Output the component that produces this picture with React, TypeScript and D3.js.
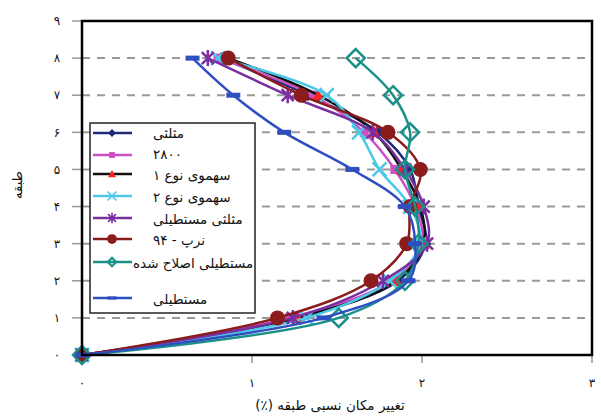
import React from "react";
import * as d3 from "d3";

const floors = [0, 1, 2, 3, 4, 5, 6, 7, 8];
const yTicks = [0, 1, 2, 3, 4, 5, 6, 7, 8, 9];
const xTicks = [0, 1, 2, 3];
const seriesNames = [
  "مثلثی",
  "۲۸۰۰",
  "سهموی نوع ۱",
  "سهموی نوع ۲",
  "مثلثی مستطیلی",
  "نرپ - ۹۴",
  "مستطیلی اصلاح شده",
  "مستطیلی",
];
const triangular = [0, 1.25, 1.86, 2.02, 1.98, 1.93, 1.74, 1.33, 0.82];
const code2800 = [0, 1.22, 1.82, 2.0, 1.96, 1.84, 1.66, 1.36, 0.8];
const parabolic1 = [0, 1.27, 1.85, 2.01, 1.99, 1.88, 1.72, 1.39, 0.86];
const parabolic2 = [0, 1.32, 1.81, 1.99, 1.93, 1.75, 1.63, 1.44, 0.8];
const triRect = [0, 1.24, 1.77, 2.03, 2.01, 1.9, 1.71, 1.21, 0.74];
const nrp94 = [0, 1.15, 1.7, 1.91, 1.93, 1.99, 1.8, 1.29, 0.86];
const rectModified = [0, 1.51, 1.9, 1.98, 1.96, 1.9, 1.93, 1.83, 1.61];
const rectangular = [0, 1.42, 1.92, 1.96, 1.9, 1.59, 1.19, 0.89, 0.65];

const seriesValues = [triangular, code2800, parabolic1, parabolic2, triRect, nrp94, rectModified, rectangular];
const lineColors = ["#1f2a7a", "#cc4fc4", "#111111", "#4cc8e8", "#7a2fa0", "#8b1c1c", "#1a9088", "#2f4fc0"];
const markerColors = ["#1f2a7a", "#cc4fc4", "#ff2020", "#4cc8e8", "#7a2fa0", "#8b1c1c", "#1a9088", "#2f4fc0"];
const markerKinds = ["diamond", "square", "triangle", "x", "star", "circle", "hdiamond", "dash"];

const toFa = (n: number) => String(n).replace(/\d/g, (d) => "۰۱۲۳۴۵۶۷۸۹"[+d]);

const FONT = "'DejaVu Sans', sans-serif";

function Marker({ kind, color, x, y, s = 1 }: { kind: string; color: string; x: number; y: number; s?: number }) {
  let el: React.ReactNode = null;
  switch (kind) {
    case "diamond":
      el = <path d="M0,-6L6,0L0,6L-6,0Z" fill={color} />;
      break;
    case "square":
      el = <rect x={-4.5} y={-4.5} width={9} height={9} fill={color} />;
      break;
    case "triangle":
      el = <path d="M0,-6L6,5L-6,5Z" fill={color} />;
      break;
    case "x":
      el = <path d="M-7,-7L7,7M7,-7L-7,7" stroke={color} strokeWidth={2.5} />;
      break;
    case "star":
      el = <path d="M-6,-6L6,6M6,-6L-6,6M0,-8L0,8" stroke={color} strokeWidth={2.5} />;
      break;
    case "circle":
      el = <circle cx={0} cy={0} r={7.5} fill={color} />;
      break;
    case "hdiamond":
      el = <path d="M0,-9L9,0L0,9L-9,0Z" fill="none" stroke={color} strokeWidth={2.5} />;
      break;
    case "ldiamond":
      el = <path d="M0,-6L6,0L0,6L-6,0Z" fill="none" stroke={color} strokeWidth={3} />;
      break;
    case "dash":
      el = <rect x={-7} y={-2.5} width={14} height={5} fill={color} />;
      break;
  }
  return <g transform={`translate(${x},${y}) scale(${s})`}>{el}</g>;
}

export default function App() {
  const W = 601;
  const H = 420;
  const x = d3.scaleLinear().domain([0, 3]).range([82, 592]);
  const y = d3.scaleLinear().domain([0, 9]).range([355, 21]);
  const line = d3
    .line<number>()
    .x((d) => x(d))
    .y((_, i) => y(floors[i]))
    .curve(d3.curveCatmullRom.alpha(0.5));

  const legendX = 90;
  const legendY = 123;
  const legendW = 165;
  const legendH = 190;
  const legendRows = [133, 155, 174, 196, 218, 239, 262, 298];
  const legendTextY = [138, 159, 180, 202, 224, 245, 268, 304];
  const legendTextX = [153, 153, 153, 153, 153, 153, 133, 153];

  return (
    <svg width={W} height={H} style={{ position: "absolute", left: 0, top: 0, background: "#fff" }}>
      <rect x={0} y={0} width={W} height={H} fill="#fff" />
      {yTicks.slice(1, 9).map((t) => (
        <line key={t} x1={x(0)} x2={x(3)} y1={y(t)} y2={y(t)} stroke="#999" strokeWidth={2} strokeDasharray="8,7" />
      ))}
      {yTicks.map((t) => (
        <g key={"yt" + t}>
          <line x1={72} x2={82} y1={y(t)} y2={y(t)} stroke="#999" strokeWidth={1.5} />
          <text x={57} y={y(t)} dy="0.35em" textAnchor="middle" fontFamily={FONT} fontSize={12} fill="#111">
            {toFa(t)}
          </text>
        </g>
      ))}
      {xTicks.map((t) => (
        <g key={"xt" + t}>
          <line x1={x(t)} x2={x(t)} y1={355} y2={363} stroke="#999" strokeWidth={1.5} />
          <text x={x(t)} y={383} dy="0.35em" textAnchor="middle" fontFamily={FONT} fontSize={12} fill="#111">
            {toFa(t)}
          </text>
        </g>
      ))}
      {seriesValues.map((vals, si) => (
        <g key={"s" + si}>
          <path d={line(vals) || ""} fill="none" stroke={lineColors[si]} strokeWidth={2.5} />
          {vals.map((v, i) => (
            <Marker key={i} kind={markerKinds[si]} color={markerColors[si]} x={x(v)} y={y(floors[i])} />
          ))}
        </g>
      ))}
      <rect x={82} y={21} width={510} height={334} fill="none" stroke="#000" strokeWidth={2.5} />
      <rect x={legendX} y={legendY} width={legendW} height={legendH} fill="#fff" stroke="#222" strokeWidth={1.5} />
      {seriesNames.map((name, si) => (
        <g key={"l" + si}>
          <line x1={93} x2={132} y1={legendRows[si]} y2={legendRows[si]} stroke={lineColors[si]} strokeWidth={2.5} />
          <Marker
            kind={markerKinds[si] === "hdiamond" ? "ldiamond" : markerKinds[si]}
            color={markerColors[si]}
            x={112}
            y={legendRows[si]}
            s={markerKinds[si] === "hdiamond" ? 0.7 : 0.65}
          />
          <text
            x={legendTextX[si]}
            y={legendTextY[si]}
            textAnchor="end"
            direction="rtl"
            fontFamily={FONT}
            fontSize={13.5}
            fill="#111"
          >
            {name}
          </text>
        </g>
      ))}
      <text x={330} y={410} textAnchor="middle" direction="rtl" fontFamily={FONT} fontSize={13.5} fill="#111">
        تغییر مکان نسبی طبقه (٪)
      </text>
      <text
        transform={`translate(22,185) rotate(-90)`}
        textAnchor="middle"
        direction="rtl"
        fontFamily={FONT}
        fontSize={13}
        fill="#111"
      >
        طبقه
      </text>
    </svg>
  );
}
